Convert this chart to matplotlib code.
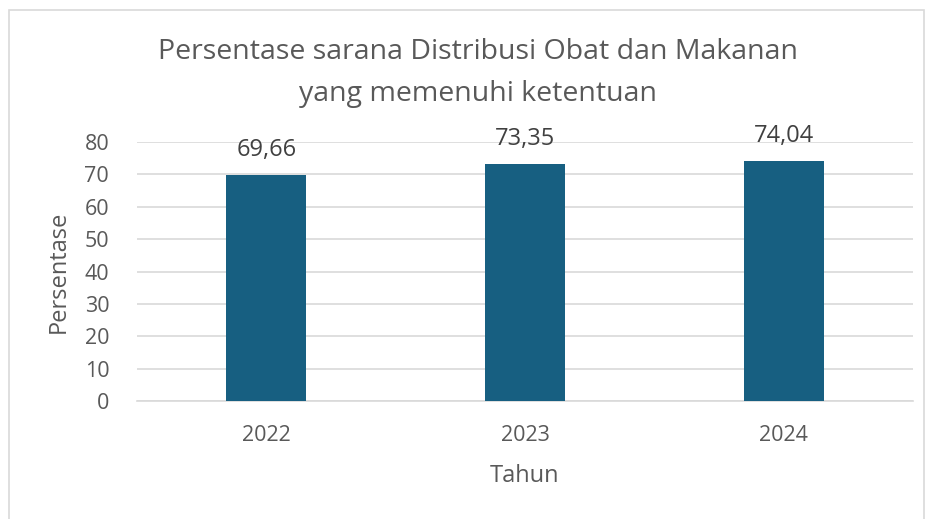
import matplotlib
matplotlib.use("Agg")
import matplotlib.pyplot as plt
from matplotlib.patches import Rectangle

years = ["2022", "2023", "2024"]
values = [69.66, 73.35, 74.04]
value_labels = ["69,66", "73,35", "74,04"]
yticks = [0, 10, 20, 30, 40, 50, 60, 70, 80]

txt = "#595959"
bar_color = "#175F81"
plt.rcParams['font.family'] = ['Open Sans', 'DejaVu Sans']

fig = plt.figure(figsize=(9.3, 5.19), dpi=100)
fig.patches.append(Rectangle((9/930, -0.01), (924-9)/930, 1 - 10/519 + 0.01, transform=fig.transFigure,
                             fill=False, edgecolor="#D9D9D9", linewidth=1.2))
ax = fig.add_axes([137/930, 1-401/519, (913-137)/930, (401-142)/519])
x = list(range(len(years)))
ax.bar(x, values, width=0.31, color=bar_color, zorder=3)
ax.set_xlim(-0.5, 2.5)
ax.set_ylim(0, 80)
ax.set_yticks(yticks)
ax.set_yticklabels([str(v) for v in yticks], fontsize=15.5, color=txt)
ax.set_xticks(x)
ax.set_xticklabels(years, fontsize=15.5, color=txt)
ax.tick_params(axis='both', length=0)
ax.tick_params(axis='y', pad=20)
ax.tick_params(axis='x', pad=17)
ax.grid(axis='y', color="#D9D9D9", linewidth=1.2, zorder=0)
for s in ['top', 'right', 'left']:
    ax.spines[s].set_visible(False)
ax.spines['bottom'].set_color("#D9D9D9")
ax.spines['bottom'].set_linewidth(1.2)
for xi, v, lab in zip(x, values, value_labels):
    ax.annotate(lab, (xi, v), xytext=(0, 18), textcoords='offset points', ha='center', va='center',
                fontsize=17, color="#404040")
ax.set_xlabel("Tahun", fontsize=17, color=txt, labelpad=13)
ax.set_ylabel("Persentase", fontsize=17, color=txt, labelpad=10)
fig.text(478/930, 1-52/519, "Persentase sarana Distribusi Obat dan Makanan", ha='center', va='center',
         fontsize=20.5, color=txt)
fig.text(478/930, 1-94/519, "yang memenuhi ketentuan", ha='center', va='center', fontsize=20.5, color=txt)
fig.savefig("out.png", dpi=100)
